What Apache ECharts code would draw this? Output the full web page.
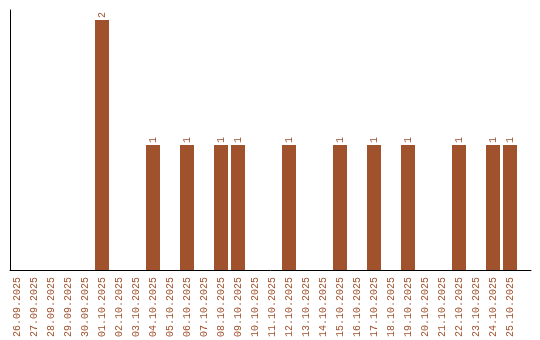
<!DOCTYPE html>
<html>
<head>
<meta charset="utf-8">
<script src="https://cdn.jsdelivr.net/npm/echarts@6/dist/echarts.min.js"></script>
<style>html,body{margin:0;padding:0;background:#fff;}#c{width:540px;height:340px;}</style>
</head>
<body>
<div id="c"></div>
<script>
const categories = ["26.09.2025","27.09.2025","28.09.2025","29.09.2025","30.09.2025","01.10.2025","02.10.2025","03.10.2025","04.10.2025","05.10.2025","06.10.2025","07.10.2025","08.10.2025","09.10.2025","10.10.2025","11.10.2025","12.10.2025","13.10.2025","14.10.2025","15.10.2025","16.10.2025","17.10.2025","18.10.2025","19.10.2025","20.10.2025","21.10.2025","22.10.2025","23.10.2025","24.10.2025","25.10.2025"];
const counts = [0,0,0,0,0,2,0,0,1,0,1,0,1,1,0,0,1,0,0,1,0,1,0,1,0,0,1,0,1,1];

const color = '#a0522d';
const font = 'Liberation Mono';
const chart = echarts.init(document.getElementById('c'), null, {renderer: 'canvas'});
chart.setOption({
  animation: false,
  grid: [
    {left: 8.5, width: 510, top: 10, height: 260},
    {left: 10, width: 521, top: 10, height: 260}
  ],
  xAxis: [
    {
      type: 'category', gridIndex: 0, data: categories,
      axisLine: {show: false}, axisTick: {show: false},
      axisLabel: {rotate: 90, interval: 0, margin: 7, color: color, fontFamily: font, fontSize: 10}
    },
    {
      type: 'value', gridIndex: 1, min: 0, max: 1,
      axisLine: {show: true, lineStyle: {color: '#000', width: 1}},
      axisTick: {show: false}, axisLabel: {show: false}, splitLine: {show: false}
    }
  ],
  yAxis: [
    {
      type: 'value', gridIndex: 0, min: 0, max: 2.08,
      axisLine: {show: false}, axisTick: {show: false}, axisLabel: {show: false}, splitLine: {show: false}
    },
    {
      type: 'value', gridIndex: 1, min: 0, max: 1,
      axisLine: {show: true, lineStyle: {color: '#000', width: 1}},
      axisTick: {show: false}, axisLabel: {show: false}, splitLine: {show: false}
    }
  ],
  series: [{
    type: 'bar', xAxisIndex: 0, yAxisIndex: 0,
    data: counts.map(v => v === 0 ? null : v),
    barWidth: 14,
    itemStyle: {color: color},
    label: {
      show: true, position: 'top', rotate: 90, align: 'left', verticalAlign: 'middle',
      distance: 2, color: color, fontFamily: font, fontSize: 10
    }
  }]
});
</script>
</body>
</html>
